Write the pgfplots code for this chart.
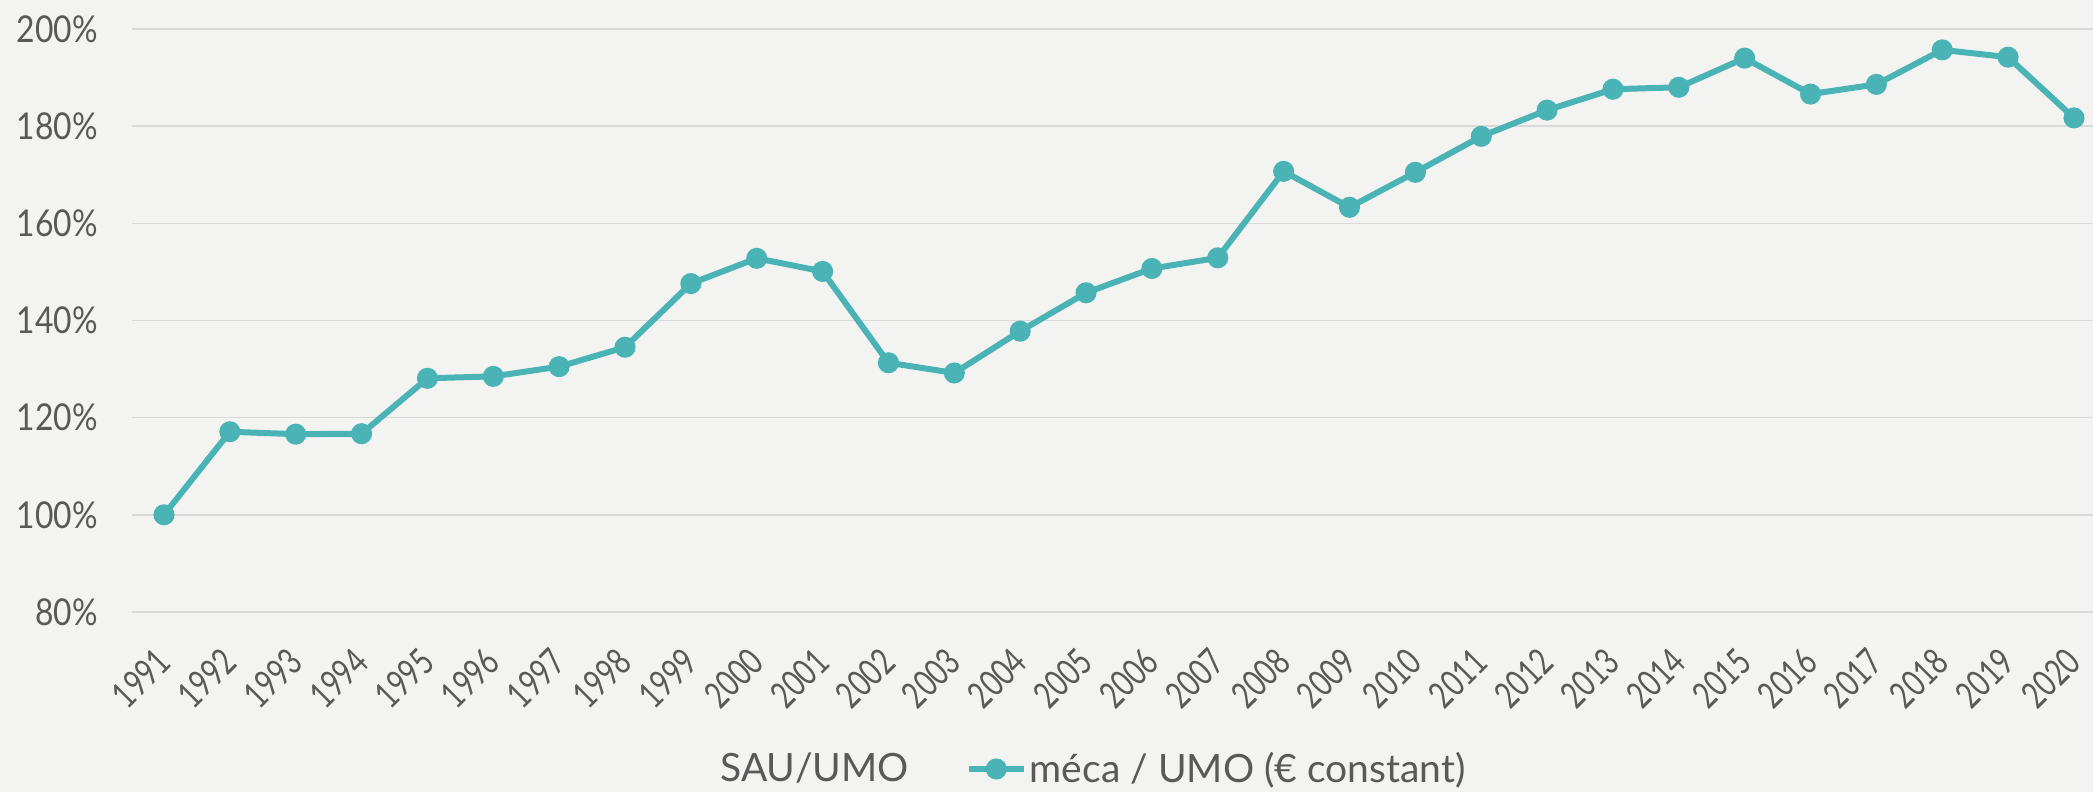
\documentclass[border=0pt]{standalone}
\usepackage{fontspec}
\setmainfont{Lato}
\newfontfamily\tickfont[FakeStretch=0.86]{Lato}
\newfontfamily\xtickfont[FakeStretch=0.75]{Lato}
\newfontfamily\legfont{Lato}
\usepackage{pgfplots}
\pgfplotsset{compat=1.18}
\definecolor{bg}{RGB}{243,243,241}
\definecolor{tealc}{RGB}{74,179,182}
\definecolor{txt}{RGB}{89,89,89}
\definecolor{gridc}{RGB}{217,217,217}
\begin{document}
\begin{tikzpicture}
\path[use as bounding box, fill=bg] (-66pt,-90pt) rectangle (980.5pt,306pt);
\begin{axis}[
  at={(0,0)}, anchor=south west,
  scale only axis, width=980.5pt, height=291.5pt,
  xmin=1990.514, xmax=2020.289, ymin=80, ymax=200,
  axis line style={draw=none},
  major tick length=0pt,
  ymajorgrids, grid style={gridc, line width=0.75pt},
  ytick={80,100,...,200},
  yticklabels={80\%,100\%,120\%,140\%,160\%,180\%,200\%},
  xtick={1991,...,2020},
  /pgf/number format/assume math mode=true,
  /pgf/number format/1000 sep={},
  yticklabel style={font=\tickfont\fontsize{18.5}{20}\selectfont, text=txt, inner sep=0pt, anchor=east, xshift=-17pt},
  xticklabel style={font=\xtickfont\fontsize{18.5}{20}\selectfont, text=txt, yshift=-21.5pt, rotate=45, anchor=east, inner sep=0pt},
  legend columns=2,
  legend style={draw=none, fill=none, at={(0.2703,-0.2693)}, anchor=west,
    inner sep=0pt, font=\legfont\fontsize{19.5}{21}\selectfont, text=txt,
    /tikz/every even column/.append style={column sep=27pt},
    nodes={inner sep=1.5pt}},
  legend image code/.code={\draw[#1, mark repeat=2, mark phase=2] plot coordinates {(0pt,0pt) (13.75pt,0pt) (27.5pt,0pt)};},
]
\addlegendimage{legend image code/.code={\path[draw=none, fill=none, opacity=0] (0pt,-3pt) rectangle (27.5pt,3pt);}}
\addlegendentry{SAU/UMO}
\addplot[tealc, line width=3pt, mark=*, mark size=3.75pt, mark options={solid, draw=none, fill=tealc}] coordinates {
(1991,100.0) (1992,117.1) (1993,116.6) (1994,116.7) (1995,128.1) (1996,128.5)
(1997,130.5) (1998,134.5) (1999,147.6) (2000,152.8) (2001,150.1) (2002,131.3)
(2003,129.2) (2004,137.8) (2005,145.7) (2006,150.7) (2007,152.9) (2008,170.7)
(2009,163.3) (2010,170.5) (2011,177.9) (2012,183.3) (2013,187.6) (2014,188.0)
(2015,194.0) (2016,186.6) (2017,188.6) (2018,195.7) (2019,194.2) (2020,181.7)
};
\addlegendentry{méca / UMO (€ constant)}
\end{axis}
\end{tikzpicture}
\end{document}
